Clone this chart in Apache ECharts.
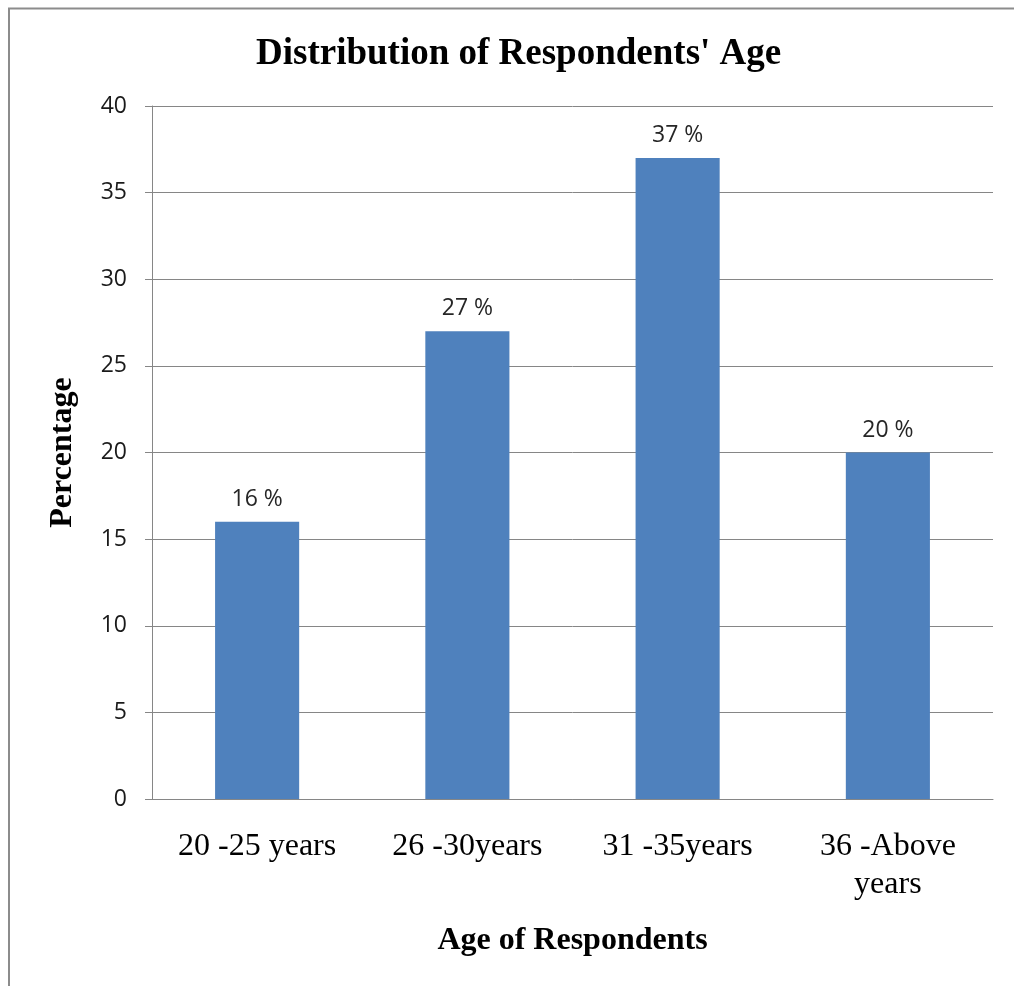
<!DOCTYPE html>
<html>
<head>
<meta charset="utf-8">
<script src="https://cdn.jsdelivr.net/npm/echarts@6/dist/echarts.min.js"></script>
<style>
  html, body { margin: 0; padding: 0; background: #ffffff; }
  #chart { width: 1014px; height: 986px; }
</style>
</head>
<body>
<div id="chart"></div>
<script>
// Age groups of the respondents and their share in percent
const categories = ['20 -25 years', '26 -30years', '31 -35years', '36 -Above\nyears'];
const percentages = [16, 27, 37, 20];
const yTicks = { min: 0, max: 40, interval: 5 };

const chart = echarts.init(document.getElementById('chart'), null, { renderer: 'canvas' });

const serif = '"Liberation Serif", "Times New Roman", serif';
const sans = '"Open Sans", "Liberation Sans", sans-serif';

chart.setOption({
  animation: false,
  backgroundColor: '#ffffff',
  title: {
    text: "Distribution of Respondents' Age",
    left: 251,
    top: 31,
    textStyle: { fontFamily: serif, fontWeight: 'bold', fontSize: 37, color: '#000000' }
  },
  graphic: [
    {
      type: 'polyline',
      silent: true,
      shape: { points: [[9, 986], [9, 8.5], [1014, 8.5]] },
      style: { stroke: '#8c8c8c', lineWidth: 2, fill: null }
    }
  ],
  grid: { left: 152, right: 21, top: 106, bottom: 187, containLabel: false },
  xAxis: {
    type: 'category',
    data: categories,
    name: 'Age of Respondents',
    nameLocation: 'middle',
    nameGap: 126,
    nameTextStyle: { fontFamily: serif, fontWeight: 'bold', fontSize: 32, color: '#000000' },
    axisLine: { show: true, lineStyle: { color: '#868686', width: 1 } },
    axisTick: { show: false },
    axisLabel: {
      margin: 29,
      fontFamily: serif,
      fontSize: 32,
      lineHeight: 38,
      color: '#000000',
      interval: 0
    }
  },
  yAxis: {
    type: 'value',
    min: yTicks.min,
    max: yTicks.max,
    interval: yTicks.interval,
    name: 'Percentage',
    nameLocation: 'middle',
    nameGap: 73,
    nameRotate: 90,
    nameTextStyle: { fontFamily: serif, fontWeight: 'bold', fontSize: 32, color: '#000000' },
    axisLine: { show: true, lineStyle: { color: '#868686', width: 1 } },
    axisTick: { show: true, length: 7, lineStyle: { color: '#868686' } },
    splitLine: { show: true, lineStyle: { color: '#868686', width: 1 } },
    axisLabel: { margin: 25, fontFamily: sans, fontSize: 23, color: '#1a1a1a' }
  },
  series: [
    {
      type: 'bar',
      data: percentages,
      barWidth: '40%',
      itemStyle: { color: '#4f81bd' },
      label: {
        show: true,
        position: 'top',
        distance: 11,
        formatter: '{c} %',
        fontFamily: sans,
        fontSize: 23,
        color: '#262626'
      }
    }
  ]
});
</script>
</body>
</html>
